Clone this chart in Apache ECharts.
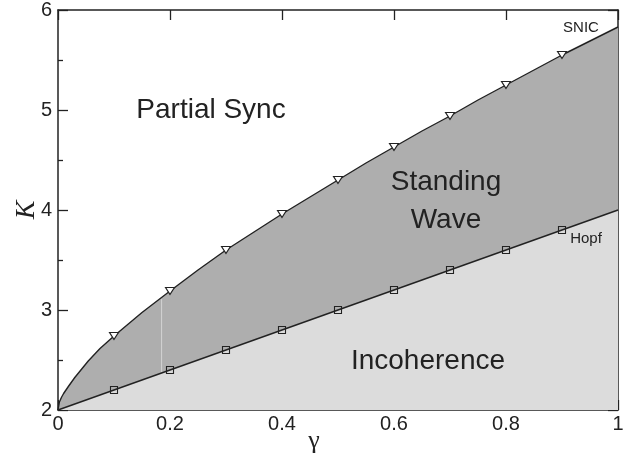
<!DOCTYPE html>
<html>
<head>
<meta charset="utf-8">
<script src="https://cdn.jsdelivr.net/npm/echarts@6/dist/echarts.min.js"></script>
<style>
  html, body { margin: 0; padding: 0; background: #fff; }
  #chart { width: 637px; height: 461px; }
</style>
</head>
<body>
<div id="chart"></div>
<script>
// SNIC boundary (upper curve)
const snicGamma = [0, 0.0025, 0.0065, 0.01, 0.0185, 0.03, 0.054, 0.075, 0.1, 0.15, 0.2, 0.25, 0.3, 0.35, 0.4, 0.45, 0.5, 0.55, 0.6, 0.65, 0.7, 0.75, 0.8, 0.85, 0.9, 0.95, 1];
const snicK = [2, 2.08, 2.13, 2.165, 2.235, 2.325, 2.49, 2.615, 2.74, 2.975, 3.19, 3.40, 3.60, 3.78, 3.96, 4.13, 4.30, 4.47, 4.63, 4.79, 4.94, 5.10, 5.25, 5.40, 5.55, 5.69, 5.83];

// SNIC markers (triangles)
const snicMarkGamma = [0.1, 0.2, 0.3, 0.4, 0.5, 0.6, 0.7, 0.8, 0.9];
const snicMarkK = [2.74, 3.19, 3.60, 3.96, 4.30, 4.63, 4.94, 5.25, 5.55];

// Hopf boundary (lower line)
const hopfGamma = [0, 1];
const hopfK = [2, 4];

// Hopf markers (squares)
const hopfMarkGamma = [0.1, 0.2, 0.3, 0.4, 0.5, 0.6, 0.7, 0.8, 0.9];
const hopfMarkK = [2.2, 2.4, 2.6, 2.8, 3.0, 3.2, 3.4, 3.6, 3.8];

// faint vertical streak inside the grey region
const streakGamma = [0.185, 0.185];
const streakK = [2.38, 3.11];

const INK = '#222';
const SANS = 'Liberation Sans, Arial, sans-serif';
const SERIF = 'Liberation Serif, Times New Roman, serif';

const zip = (xs, ys) => xs.map((x, i) => [x, ys[i]]);

const chart = echarts.init(document.getElementById('chart'), null, { renderer: 'canvas' });

const frameX = (show, pos) => ({
  type: 'value',
  position: pos,
  min: 0,
  max: 1,
  interval: 0.2,
  axisLine: { show: true, onZero: false, lineStyle: { color: INK, width: 1.5 } },
  axisTick: { show: true, inside: true, length: 10, lineStyle: { color: INK, width: 1.3 } },
  axisLabel: show
    ? { color: INK, fontSize: 20, fontFamily: SANS, margin: 4, formatter: (v) => String(+v.toFixed(1)) }
    : { show: false },
  splitLine: { show: false }
});

const frameY = (show, pos) => ({
  type: 'value',
  position: pos,
  min: 2,
  max: 6,
  interval: 1,
  axisLine: { show: true, onZero: false, lineStyle: { color: INK, width: 1.5 } },
  axisTick: { show: true, inside: true, length: 10, lineStyle: { color: INK, width: 1.3 } },
  minorTick: { show: true, splitNumber: 2, length: 5, lineStyle: { color: INK, width: 1.3 } },
  axisLabel: show
    ? { color: INK, fontSize: 20, fontFamily: SANS, margin: 6 }
    : { show: false },
  splitLine: { show: false }
});

const text = (str, x, y, font, rotation) => ({
  type: 'text',
  x: x,
  y: y,
  z: 100,
  rotation: rotation || 0,
  style: {
    text: str,
    fill: INK,
    font: font,
    textAlign: 'center',
    textVerticalAlign: 'middle'
  }
});

chart.setOption({
  animation: false,
  backgroundColor: '#fff',
  grid: { left: 58, right: 19, top: 10, bottom: 51, containLabel: false },
  xAxis: [frameX(true, 'bottom'), frameX(false, 'top')],
  yAxis: [frameY(true, 'left'), frameY(false, 'right')],
  series: [
    {
      name: 'SNIC',
      type: 'line',
      data: zip(snicGamma, snicK),
      showSymbol: false,
      smooth: false,
      lineStyle: { color: INK, width: 1.4 },
      areaStyle: { color: '#aeaeae', opacity: 1, origin: 'start' },
      z: 2
    },
    {
      name: 'Hopf',
      type: 'line',
      data: zip(hopfGamma, hopfK),
      showSymbol: false,
      lineStyle: { color: INK, width: 1.4 },
      areaStyle: { color: '#dcdcdc', opacity: 1, origin: 'start' },
      z: 3
    },
    {
      name: 'streak',
      type: 'line',
      data: zip(streakGamma, streakK),
      showSymbol: false,
      lineStyle: { color: '#d4d4d4', width: 1 },
      z: 2
    },
    {
      name: 'SNIC markers',
      type: 'scatter',
      data: zip(snicMarkGamma, snicMarkK),
      symbol: 'triangle',
      symbolRotate: 180,
      symbolSize: [9, 7],
      itemStyle: { color: '#fff', borderColor: INK, borderWidth: 1.1, opacity: 1 },
      z: 4
    },
    {
      name: 'Hopf markers',
      type: 'scatter',
      data: zip(hopfMarkGamma, hopfMarkK),
      symbol: 'rect',
      symbolSize: 7,
      itemStyle: { color: 'rgba(0,0,0,0)', borderColor: INK, borderWidth: 1.1, opacity: 1 },
      z: 4
    }
  ],
  graphic: [
    text('Partial Sync', 211, 110, '28px ' + SANS),
    text('Standing', 446, 182, '28px ' + SANS),
    text('Wave', 446, 220, '28px ' + SANS),
    text('Incoherence', 428, 361, '28px ' + SANS),
    text('SNIC', 581, 28, '15px ' + SANS),
    text('Hopf', 586, 239, '15px ' + SANS),
    text('γ', 314, 441, '26px ' + SERIF),
    text('K', 27, 210, 'italic 28px ' + SERIF, Math.PI / 2)
  ]
});
</script>
</body>
</html>
